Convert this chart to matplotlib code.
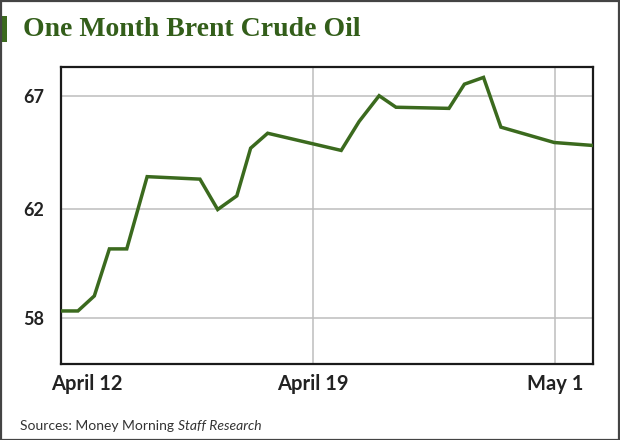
import numpy as np
import matplotlib
matplotlib.use("Agg")
import matplotlib.pyplot as plt
from matplotlib.patches import Rectangle

# ---- data ----
day_pos = [0, 0.955, 1.88, 2.73, 3.71, 4.86, 7.84, 8.84, 9.92, 10.70, 11.66,
           15.81, 16.82, 17.95, 18.90, 21.89, 22.76, 23.84, 24.82, 27.83, 30.0]
price = [58.27, 58.27, 58.82, 60.54, 60.54, 63.43, 63.32, 61.98, 62.58, 64.69, 65.35,
         64.59, 65.87, 67.01, 66.50, 66.45, 67.52, 67.82, 65.62, 64.94, 64.81]
tick_pos = [1.46, 14.23, 27.86]
tick_labels = ["April 12", "April 19", "May 1"]
y_ticks = [58, 62, 67]
title = "One Month Brent Crude Oil"
source_regular = "Sources: Money Morning "
source_italic = "Staff Research"

GREEN = "#3b6a1e"
TITLE_GREEN = "#335e1a"

# piecewise-linear y scale (gridlines evenly spaced in the reference)
def fwd(v):
    v = np.asarray(v, dtype=float)
    return np.where(v < 62, (v - 62) * 27.33, (v - 62) * 22.6)

def inv(p):
    p = np.asarray(p, dtype=float)
    return np.where(p < 0, p / 27.33 + 62, p / 22.6 + 62)

fig = plt.figure(figsize=(6.2, 4.4), dpi=100)
ax = fig.add_axes([61 / 620, 1 - 364 / 440, (592.7 - 61) / 620, (364 - 67) / 440])
ax.set_yscale("function", functions=(fwd, inv))

ax.plot(day_pos, price, color=GREEN, lw=2.5, solid_joinstyle="miter", zorder=3)

ax.set_xlim(0, 30)
ax.set_ylim(56.33, 68.28)
ax.set_yticks(y_ticks)
ax.set_yticklabels([str(t) for t in y_ticks])
ax.yaxis.set_minor_locator(matplotlib.ticker.NullLocator())
ax.set_xticks(tick_pos)
ax.set_xticklabels(tick_labels)

ax.grid(True, color="#bdbdbd", lw=1.1, zorder=0)
ax.get_xgridlines()[0].set_visible(False)
ax.tick_params(length=0)
ax.tick_params(axis="y", pad=12, labelsize=13, labelcolor="#222222")
ax.tick_params(axis="x", pad=7, labelsize=14.5, labelcolor="#222222")
for lab in ax.get_xticklabels() + ax.get_yticklabels():
    lab.set_family("Lato")
    lab.set_fontweight("bold")
for s in ax.spines.values():
    s.set_color("#1a1a1a")
    s.set_linewidth(1.6)

# title with green bar
fig.text(22.7 / 620, 1 - 36 / 440, title, family="Liberation Serif", fontweight="bold",
         fontsize=20, color=TITLE_GREEN, va="baseline", ha="left")
fig.patches.append(Rectangle((0, 1 - 42 / 440), 6.5 / 620, 26 / 440,
                             transform=fig.transFigure, facecolor=GREEN,
                             edgecolor="none", zorder=5))

# source line
t1 = fig.text(20.5 / 620, 1 - 430 / 440, source_regular, family="Lato", fontsize=10,
              color="#333333", va="baseline", ha="left")
fig.canvas.draw()
bb = t1.get_window_extent()
x_next = bb.x1 / fig.bbox.width
fig.text(x_next, 1 - 430 / 440, source_italic, family="Lato", style="italic",
         fontsize=10, color="#333333", va="baseline", ha="left")

# outer frame
fig.patches.append(Rectangle((0.5 / 620, 0.5 / 440), 618.5 / 620, 438.5 / 440,
                             transform=fig.transFigure, facecolor="none",
                             edgecolor="#444444", lw=1.6, zorder=10))

fig.savefig("out.png", dpi=100)
